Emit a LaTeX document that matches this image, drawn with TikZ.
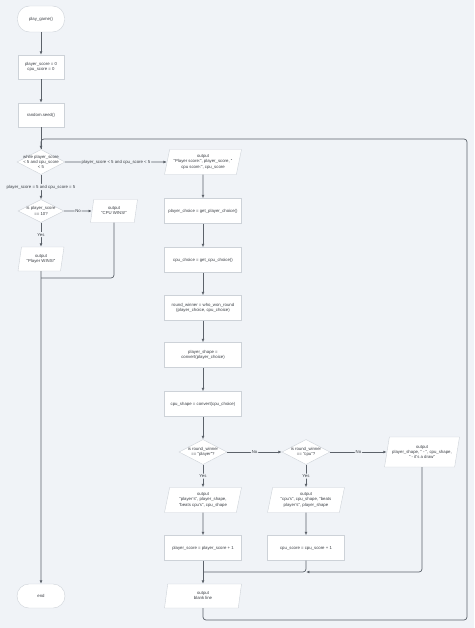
\documentclass[tikz,border=0pt]{standalone}
\usepackage{fontspec}
\setmainfont{Liberation Sans}
\usetikzlibrary{arrows.meta}
\usetikzlibrary{shapes.geometric}
\definecolor{canvas}{RGB}{240,243,247}
\definecolor{edge}{RGB}{92,98,106}
\definecolor{rim}{RGB}{205,210,216}
\definecolor{ink}{RGB}{58,62,68}
\tikzset{every node/.style={font=\fontsize{4.3}{5.1}\selectfont, text=ink, align=center}}
\tikzset{process/.style={draw=rim, fill=white, line width=0.4pt, minimum width=77pt, minimum height=25pt, inner sep=1pt}}
\tikzset{narrow/.style={minimum width=46pt, minimum height=24pt}}
\tikzset{terminal/.style={draw=rim, fill=white, line width=0.4pt, rounded corners=12pt, minimum width=47pt, minimum height=26pt}}
\tikzset{io/.style={trapezium, trapezium left angle=72, trapezium right angle=108, trapezium stretches body,
                    draw=rim, fill=white, line width=0.4pt, minimum width=77pt, minimum height=25pt, inner sep=1pt}}
\tikzset{decision/.style={diamond, draw=rim, fill=white, line width=0.4pt, minimum width=48pt, minimum height=25pt, inner sep=0pt}}
\tikzset{link/.style={draw=edge, line width=0.7pt, rounded corners=3pt}}
\tikzset{flow/.style={link, -{Latex[length=3.4pt,width=2.8pt]}}}
\tikzset{tag/.style={fill=canvas, inner sep=1pt}}

\begin{document}
\begin{tikzpicture}[x=1pt, y=-1pt]
			\fill[canvas] (0,0) rectangle (474,628);
			\useasboundingbox (0,0) rectangle (474,628);
			% left column
			\node[terminal] (0) at (41, 19) {play\_game()};
			\node[process, narrow] (1) at (41, 67) {player\_score = 0\\cpu\_score = 0};
			\node[process, narrow] (2) at (41, 115) {random.seed()};
			\node[decision, label={center:while player\_score\\< 5 and cpu\_score\\< 5}] (3) at (41, 162) {};
			\node[decision, minimum width=46pt, minimum height=23pt, label={center:is player\_score\\== 10?}] (5) at (41, 211) {};
			\node[io, minimum width=47pt, minimum height=23pt] (6) at (114, 211) {output\\"CPU WINS!"};
			\node[io, minimum width=46pt, minimum height=24pt] (7) at (41, 259) {output\\"Player WINS!"};
			\node[terminal, minimum width=48pt, minimum height=24pt] (8) at (41, 596) {end};
			% middle column
			\node[io] (4) at (203, 162) {output\\"Player score:", player\_score, "\\cpu score:", cpu\_score};
			\node[process] (9) at (203, 211) {player\_choice = get\_player\_choice()};
			\node[process] (10) at (203, 260) {cpu\_choice = get\_cpu\_choice()};
			\node[process] (11) at (203, 308) {round\_winner = who\_won\_round\\(player\_choice, cpu\_choice)};
			\node[process] (12) at (203, 355) {player\_shape =\\convert(player\_choice)};
			\node[process] (13) at (203, 404) {cpu\_shape = convert(cpu\_choice)};
			\node[decision, label={center:is round\_winner\\== "player"?}] (14) at (203, 452) {};
			\node[io] (17) at (203, 500) {output\\"player's", player\_shape,\\"beats cpu's", cpu\_shape};
			\node[process] (19) at (203, 548) {player\_score = player\_score + 1};
			\node[io, minimum height=24pt] (21) at (203, 596) {output\\blank line};
			% right columns
			\node[decision, label={center:is round\_winner\\== "cpu"?}] (15) at (306, 452) {};
			\node[io] (18) at (306, 500) {output\\"cpu's", cpu\_shape, "beats\\player's", player\_shape};
			\node[process] (20) at (306, 548) {cpu\_score = cpu\_score + 1};
			\node[io, minimum width=75pt, minimum height=30pt] (16) at (422, 452) {output\\player\_shape, " - ", cpu\_shape,\\" - it's a draw"};
			% turning points
			\coordinate (c0) at (467, 620);
			\coordinate (c1) at (467, 139);
			\coordinate (c2) at (41, 278);
			\coordinate (c3) at (306, 572);
			\coordinate (c4) at (203, 572);
			% connectors
			\draw[flow] (0) -- (1);
			\draw[flow] (1) -- (2);
			\draw[link] (2) -- (3);
			\draw[flow] (3) -- node[tag] {player\_score < 5 and cpu\_score < 5} (4);
			\draw[flow] (3) -- node[tag] {player\_score = 5 and cpu\_score = 5} (5);
			\draw[flow] (5) -- node[tag] {No} (6);
			\draw[flow] (5) -- node[tag] {Yes} (7);
			\draw[flow] (7) -- (8);
			\draw[link] (6.south) |- (c2);
			\draw[flow] (4) -- (9);
			\draw[flow] (9) -- (10);
			\draw[flow] (10) -- (11);
			\draw[flow] (11) -- (12);
			\draw[flow] (12) -- (13);
			\draw[flow] (13) -- (14);
			\draw[flow] (14) -- node[tag] {No} (15);
			\draw[flow] (15) -- node[tag] {No} (16);
			\draw[flow] (14) -- node[tag] {Yes} (17);
			\draw[flow] (15) -- node[tag] {Yes} (18);
			\draw[flow] (17) -- (19);
			\draw[flow] (18) -- (20);
			\draw[flow] (19) -- (21);
			\draw[link] (20.south) |- (c4);
			\draw[flow] (16.south) |- (c3);
			\draw[flow] (21.south) |- (c0) -- (c1) -| (3.north);
		\end{tikzpicture}
\end{document}
